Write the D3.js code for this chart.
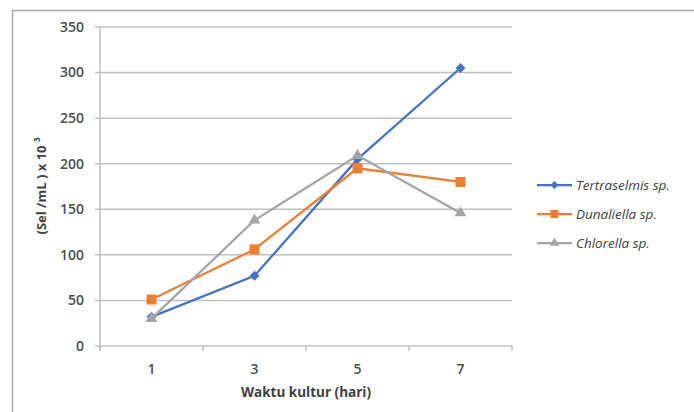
<!DOCTYPE html>
<html>
<head>
<meta charset="utf-8">
<script src="https://cdn.jsdelivr.net/npm/d3@7"></script>
<style>
  body { margin: 0; background: #fff; }
  text { font-family: "Open Sans", "Liberation Sans", sans-serif; }
</style>
</head>
<body>
<div id="chart"></div>
<script>
// Data
const days = ['1', '3', '5', '7'];
const tertraselmis = [32, 77, 205, 305];
const dunaliella = [51, 106, 195, 180];
const chlorella = [30, 138, 209, 146];
const yTicks = [0, 50, 100, 150, 200, 250, 300, 350];

const series = [
  { name: 'Tertraselmis sp.', values: tertraselmis, color: '#4472C4', marker: 'diamond' },
  { name: 'Dunaliella sp.', values: dunaliella, color: '#ED7D31', marker: 'square' },
  { name: 'Chlorella sp.', values: chlorella, color: '#A5A5A5', marker: 'triangle' }
];

const width = 694, height = 412;
const plot = { left: 100, right: 512, top: 27, bottom: 346 };

const svg = d3.select('#chart').append('svg')
  .attr('width', width)
  .attr('height', height);

// outer frame (left + top only visible)
svg.append('path')
  .attr('d', `M12.5,${height} L12.5,10.5 L${width},10.5`)
  .attr('fill', 'none')
  .attr('stroke', '#a6a6a6')
  .attr('stroke-width', 1.5);

const x = d3.scaleBand().domain(days).range([plot.left, plot.right]);
const y = d3.scaleLinear().domain([0, 350]).range([plot.bottom, plot.top]);

// gridlines
svg.append('g').selectAll('line')
  .data(yTicks.filter(d => d > 0))
  .enter().append('line')
  .attr('x1', plot.left - 5).attr('x2', plot.right)
  .attr('y1', d => y(d)).attr('y2', d => y(d))
  .attr('stroke', '#bfbfbf')
  .attr('stroke-width', 1.5);

// y axis line
svg.append('line')
  .attr('x1', plot.left).attr('x2', plot.left)
  .attr('y1', plot.top).attr('y2', plot.bottom + 5)
  .attr('stroke', '#bfbfbf').attr('stroke-width', 1.5);

// x axis
svg.append('line')
  .attr('x1', plot.left - 5).attr('x2', plot.right)
  .attr('y1', plot.bottom).attr('y2', plot.bottom)
  .attr('stroke', '#bfbfbf').attr('stroke-width', 1.5);

const bounds = days.map(d => x(d)).concat([plot.right]);
svg.append('g').selectAll('line')
  .data(bounds)
  .enter().append('line')
  .attr('x1', d => d).attr('x2', d => d)
  .attr('y1', plot.bottom).attr('y2', plot.bottom + 5)
  .attr('stroke', '#bfbfbf').attr('stroke-width', 1.5);

// y tick labels
svg.append('g').selectAll('text')
  .data(yTicks)
  .enter().append('text')
  .attr('x', plot.left - 16)
  .attr('y', d => y(d))
  .attr('dy', '0.35em')
  .attr('text-anchor', 'end')
  .attr('fill', '#4d4d4d')
  .attr('font-size', '14px')
  .style('font-weight', '600')
  .text(d => d);

// x tick labels
svg.append('g').selectAll('text')
  .data(days)
  .enter().append('text')
  .attr('x', d => x(d) + x.bandwidth() / 2)
  .attr('y', plot.bottom + 28)
  .attr('text-anchor', 'middle')
  .attr('fill', '#4d4d4d')
  .attr('font-size', '14px')
  .style('font-weight', '600')
  .text(d => d);

// axis titles
svg.append('text')
  .attr('x', (plot.left + plot.right) / 2)
  .attr('y', plot.bottom + 51)
  .attr('text-anchor', 'middle')
  .attr('fill', '#404040')
  .attr('font-size', '13.5px')
  .style('font-weight', 'bold')
  .text('Waktu kultur (hari)');

const yTitle = svg.append('text')
  .attr('transform', `translate(46, 186) rotate(-90)`)
  .attr('text-anchor', 'middle')
  .attr('fill', '#404040')
  .attr('font-size', '13px')
  .style('font-weight', 'bold');
yTitle.append('tspan').text('(Sel /mL ) x 10 ');
yTitle.append('tspan').attr('font-size', '8px').attr('dy', '-0.7em').text('3');

// markers
function drawMarker(g, type, color, size) {
  if (type === 'diamond') {
    g.append('path')
      .attr('d', d3.symbol().type(d3.symbolDiamond2).size(size * 1.6)())
      .attr('fill', color);
  } else if (type === 'square') {
    g.append('rect')
      .attr('x', -5).attr('y', -5).attr('width', 10).attr('height', 10)
      .attr('fill', color);
  } else {
    g.append('path')
      .attr('d', d3.symbol().type(d3.symbolTriangle).size(size * 1.5)())
      .attr('fill', color);
  }
}

const line = d3.line()
  .x((d, i) => x(days[i]) + x.bandwidth() / 2)
  .y(d => y(d));

series.forEach(s => {
  svg.append('path')
    .attr('d', line(s.values))
    .attr('fill', 'none')
    .attr('stroke', s.color)
    .attr('stroke-width', 2.25);

  s.values.forEach((v, i) => {
    const g = svg.append('g')
      .attr('transform', `translate(${x(days[i]) + x.bandwidth() / 2},${y(v)})`);
    drawMarker(g, s.marker, s.color, 40);
  });
});

// legend
const legend = svg.append('g');
series.forEach((s, i) => {
  const ly = 185 + i * 29;
  legend.append('line')
    .attr('x1', 537).attr('x2', 572)
    .attr('y1', ly).attr('y2', ly)
    .attr('stroke', s.color)
    .attr('stroke-width', 2.25);
  const g = legend.append('g').attr('transform', `translate(554.5,${ly})`);
  if (s.marker === 'diamond') {
    g.append('path').attr('d', d3.symbol().type(d3.symbolDiamond2).size(40)()).attr('fill', s.color);
  } else if (s.marker === 'square') {
    g.append('rect').attr('x', -4).attr('y', -4).attr('width', 8).attr('height', 8).attr('fill', s.color);
  } else {
    g.append('path').attr('d', d3.symbol().type(d3.symbolTriangle).size(40)()).attr('fill', s.color);
  }
  legend.append('text')
    .attr('x', 576)
    .attr('y', ly)
    .attr('dy', '0.35em')
    .attr('fill', '#404040')
    .attr('font-size', '13.5px')
    .style('font-style', 'italic')
    .text(s.name);
});
</script>
</body>
</html>
